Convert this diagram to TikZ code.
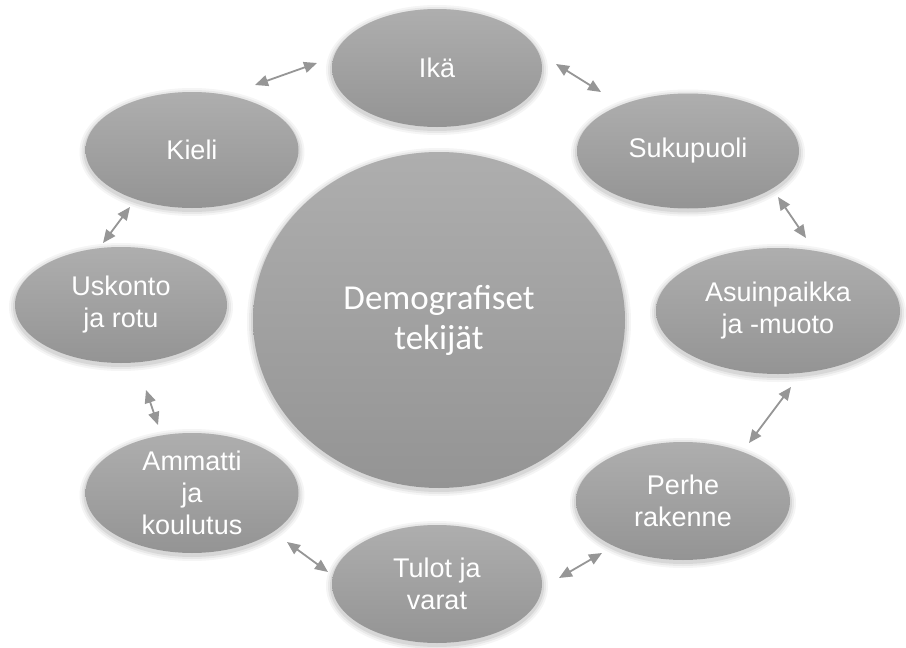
\documentclass[tikz,border=0pt]{standalone}
\usepackage{fontspec}
\setmainfont{Liberation Sans}
\newfontfamily\calib{Carlito}
\usetikzlibrary{arrows.meta,shapes.geometric}
\definecolor{topg}{RGB}{174,174,174}
\definecolor{botg}{RGB}{148,148,148}
\definecolor{arr}{RGB}{150,150,150}
\begin{document}
\begin{tikzpicture}[x=1pt,y=-1pt,
  blob/.style={ellipse, inner sep=0pt, top color=topg, bottom color=botg, draw=none,
    text=white, font=\fontsize{27}{32}\selectfont, align=center,
    preaction={draw=black, draw opacity=0.04, line width=12pt, transform canvas={yshift=-2pt}},
    preaction={draw=black, draw opacity=0.05, line width=8pt, transform canvas={yshift=-2pt}},
    preaction={draw=black, draw opacity=0.07, line width=4pt, transform canvas={yshift=-2pt}}},
  link/.style={{Triangle[length=13pt,width=11pt]}-{Triangle[length=13pt,width=11pt]}, draw=arr, line width=1.8pt}]
\useasboundingbox[fill=white] (0,0) rectangle (906,648);
\node[blob, minimum width=372pt, minimum height=336pt, font=\calib\fontsize{35}{40}\selectfont] (c) at (439,320) {Demografiset\\tekijät};
\node[blob, minimum width=210pt, minimum height=118pt] (ika) at (437,68) {Ikä};
\node[blob, minimum width=222pt, minimum height=115pt] (suku) at (688,151) {Sukupuoli};
\node[blob, minimum width=244pt, minimum height=126pt] (asu) at (778,311) {Asuinpaikka\\ja -muoto};
\node[blob, minimum width=214pt, minimum height=118pt] (perhe) at (683,501) {Perhe\\rakenne};
\node[blob, minimum width=210pt, minimum height=118pt] (tulot) at (437,584) {Tulot ja\\varat};
\node[blob, minimum width=213pt, minimum height=120pt] (amm) at (192,493) {Ammatti\\ja\\koulutus};
\node[blob, minimum width=212pt, minimum height=116pt] (usk) at (121,305) {Uskonto\\ja rotu};
\node[blob, minimum width=213pt, minimum height=116pt] (kieli) at (192,150) {Kieli};
\coordinate (a1s) at (255,85); \coordinate (a1e) at (317,63);
\coordinate (a2s) at (556,64); \coordinate (a2e) at (601,92);
\coordinate (a3s) at (778,197); \coordinate (a3e) at (806,238);
\coordinate (a4s) at (791,387); \coordinate (a4e) at (749,443);
\coordinate (a5s) at (602,553); \coordinate (a5e) at (559,578);
\coordinate (a6s) at (287,542); \coordinate (a6e) at (328,572);
\coordinate (a7s) at (146,390); \coordinate (a7e) at (158,425);
\coordinate (a8s) at (103,243); \coordinate (a8e) at (130,207);
\draw[link] (a1s) -- (a1e);
\draw[link] (a2s) -- (a2e);
\draw[link] (a3s) -- (a3e);
\draw[link] (a4s) -- (a4e);
\draw[link] (a5s) -- (a5e);
\draw[link] (a6s) -- (a6e);
\draw[link] (a7s) -- (a7e);
\draw[link] (a8s) -- (a8e);
\end{tikzpicture}
\end{document}
